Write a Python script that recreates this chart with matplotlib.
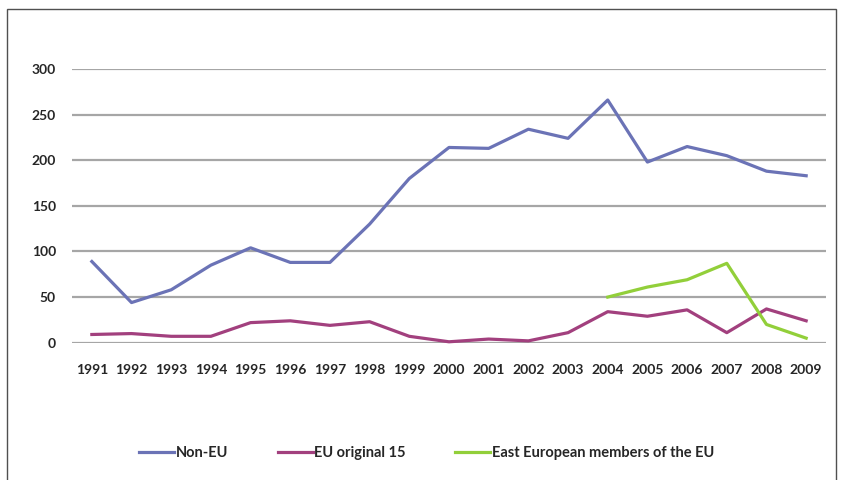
import matplotlib
matplotlib.use("Agg")
import matplotlib.pyplot as plt
from matplotlib.patches import Rectangle

years = [str(y) for y in range(1991, 2010)]
non_eu = [89, 44, 58, 85, 104, 88, 88, 130, 180, 214,
          213, 234, 224, 266, 198, 215, 205, 188, 183]
eu_15 = [9, 10, 7, 7, 22, 24, 19, 23, 7, 1,
         4, 2, 11, 34, 29, 36, 11, 37, 24]
east_years = years[13:]
east_eu = [50, 61, 69, 87, 20, 5]

plt.rcParams['font.family'] = ['Lato', 'DejaVu Sans']
text_color = '#262626'

fig = plt.figure(figsize=(8.43, 4.8), dpi=100)
ax = fig.add_axes([72 / 843, 1 - 342.7 / 480, 754 / 843, (342.7 - 69) / 480])

x = list(range(len(years)))
ax.plot(x, non_eu, color='#6B73B6', lw=2.3, label='Non-EU', clip_on=False)
ax.plot(x, eu_15, color='#A2407E', lw=2.3, label='EU original 15', clip_on=False)
ax.plot([years.index(y) for y in east_years], east_eu, color='#92CF3A', lw=2.3,
        label='East European members of the EU', clip_on=False)

ax.set_xlim(-0.5, len(years) - 0.5)
ax.set_ylim(0, 300)
ax.set_yticks(range(0, 301, 50))
ax.set_xticks(x)
ax.set_xticklabels(years)
ax.grid(axis='y', color='#A6A6A6', lw=1.6)
ax.set_axisbelow(True)
for s in ax.spines.values():
    s.set_visible(False)
ax.tick_params(length=0, labelsize=10, colors=text_color)
ax.tick_params(axis='x', pad=15)
ax.tick_params(axis='y', pad=11.5)
for lab in ax.get_xticklabels() + ax.get_yticklabels():
    lab.set_fontweight('bold')

leg = fig.legend(loc='center', bbox_to_anchor=(0.506, 1 - 453 / 480), ncol=3,
                 frameon=False, handlelength=2.4, handletextpad=0.1,
                 columnspacing=3.4, prop={'size': 10.5, 'weight': 'bold'})
for t in leg.get_texts():
    t.set_color(text_color)

# outer frame
fig.patches.append(Rectangle((7 / 843, -0.1), (836 - 7) / 843, 1.1 - 9 / 480,
                             transform=fig.transFigure, fill=False,
                             edgecolor='#505050', lw=1.0))

fig.savefig('out.png', dpi=100)
